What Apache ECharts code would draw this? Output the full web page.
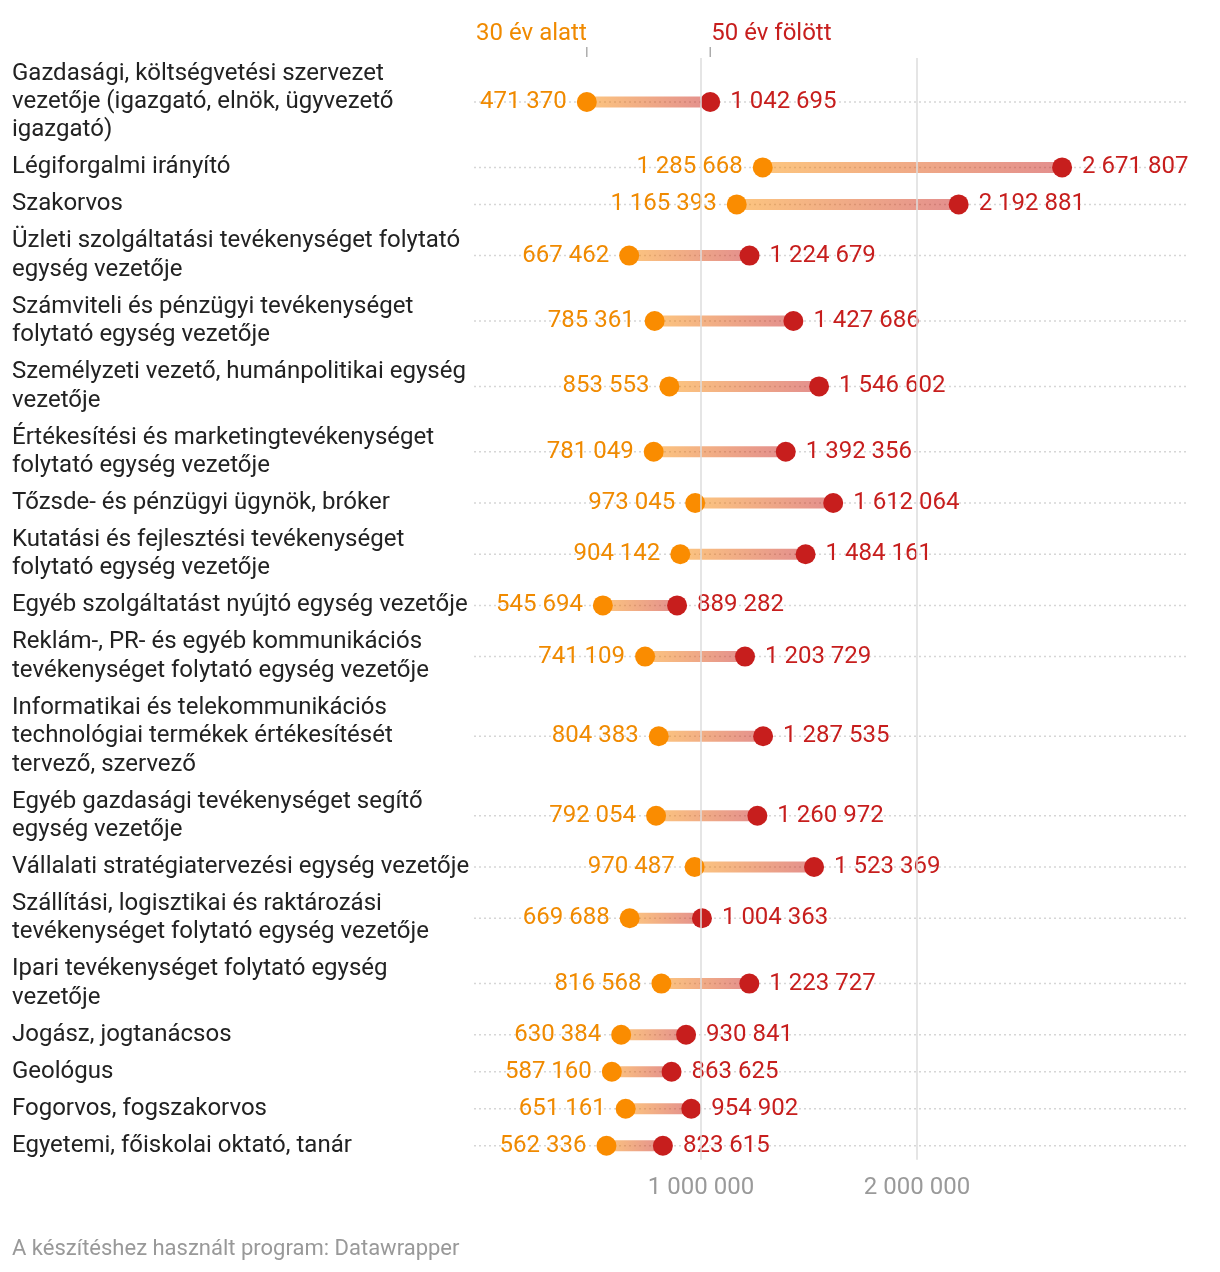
<!DOCTYPE html>
<html>
<head>
<meta charset="utf-8">
<script src="https://cdn.jsdelivr.net/npm/echarts@6/dist/echarts.min.js"></script>
<style>html,body{margin:0;padding:0;background:#fff}#c{width:1220px;height:1272px}</style>
</head>
<body>
<div id="c"></div>
<script>
const categories = [
  "Gazdasági, költségvetési szervezet\nvezetője (igazgató, elnök, ügyvezető\nigazgató)",
  "Légiforgalmi irányító",
  "Szakorvos",
  "Üzleti szolgáltatási tevékenységet folytató\negység vezetője",
  "Számviteli és pénzügyi tevékenységet\nfolytató egység vezetője",
  "Személyzeti vezető, humánpolitikai egység\nvezetője",
  "Értékesítési és marketingtevékenységet\nfolytató egység vezetője",
  "Tőzsde- és pénzügyi ügynök, bróker",
  "Kutatási és fejlesztési tevékenységet\nfolytató egység vezetője",
  "Egyéb szolgáltatást nyújtó egység vezetője",
  "Reklám-, PR- és egyéb kommunikációs\ntevékenységet folytató egység vezetője",
  "Informatikai és telekommunikációs\ntechnológiai termékek értékesítését\ntervező, szervező",
  "Egyéb gazdasági tevékenységet segítő\negység vezetője",
  "Vállalati stratégiatervezési egység vezetője",
  "Szállítási, logisztikai és raktározási\ntevékenységet folytató egység vezetője",
  "Ipari tevékenységet folytató egység\nvezetője",
  "Jogász, jogtanácsos",
  "Geológus",
  "Fogorvos, fogszakorvos",
  "Egyetemi, főiskolai oktató, tanár"
];
const under30 = [471370, 1285668, 1165393, 667462, 785361, 853553, 781049, 973045, 904142, 545694, 741109, 804383, 792054, 970487, 669688, 816568, 630384, 587160, 651161, 562336];
const over50 = [1042695, 2671807, 2192881, 1224679, 1427686, 1546602, 1392356, 1612064, 1484161, 889282, 1203729, 1287535, 1260972, 1523369, 1004363, 1223727, 930841, 863625, 954902, 823615];
const seriesNames = ["30 év alatt", "50 év fölött"];
const xTicks = [1000000, 2000000];
const footer = "A készítéshez használt program: Datawrapper";

// layout (row heights derived from the number of label lines)
const ROW_BASE = 37, LINE_H = 28.4, XMAX = 3250000;
const PAD_TOP = 44, PAD_BOTTOM = 14;
const FONT = "Roboto, 'Noto Sans', sans-serif";
const FS = 24;
const ORANGE = '#fa8c00', RED = '#c71e1d', ORANGE_T = '#f08a00';
const lines = categories.map(s => s.split('\n').length);
const heights = lines.map(n => ROW_BASE + LINE_H * (n - 1));
const centers = [];
let acc = 0;
heights.forEach(h => { centers.push(acc + h / 2); acc += h; });
const yMin = centers[0] - PAD_TOP;
const yMax = centers[centers.length - 1] + PAD_BOTTOM;
const GRID_TOP = 58;
const fmt = v => String(Math.round(v)).replace(/\B(?=(\d{3})+(?!\d))/g, ' ');

const rows = categories.map((c, i) => [i, under30[i], over50[i], centers[i]]);

const chart = echarts.init(document.getElementById('c'), null, {renderer: 'canvas'});
chart.setOption({
  animation: false,
  backgroundColor: '#fff',
  textStyle: {fontFamily: FONT},
  title: {
    text: footer, left: 7, top: 1233,
    textStyle: {fontSize: 22, fontWeight: 'normal', color: '#999', fontFamily: FONT}
  },
  grid: {left: 485, right: 33, top: GRID_TOP, bottom: 1272 - GRID_TOP - (yMax - yMin)},
  xAxis: {
    type: 'value', min: 0, max: XMAX, interval: 1000000,
    axisLine: {show: false}, axisTick: {show: false}, splitLine: {show: false},
    axisLabel: {
      margin: 16, color: '#9a9a9a', fontSize: FS, fontFamily: FONT,
      formatter: v => xTicks.indexOf(v) >= 0 ? fmt(v) : ''
    }
  },
  yAxis: {type: 'value', min: yMin, max: yMax, inverse: true, show: false},
  series: [
    {
      type: 'scatter', z: 0, silent: true, symbolSize: 0, data: [[0, centers[0]]],
      markLine: {
        silent: true, symbol: 'none', label: {show: false},
        lineStyle: {color: '#dcdcdc', width: 1.5, type: 'solid'},
        data: xTicks.map(v => ({xAxis: v}))
      }
    },
    {
      type: 'custom', z: 1, silent: true,
      data: rows,
      renderItem: (params, api) => {
        const i = api.value(0), y = api.value(3);
        const p0 = api.coord([0, y]);
        const pE = api.coord([XMAX, y]);
        const pA = api.coord([api.value(1), y]);
        const pB = api.coord([api.value(2), y]);
        const children = [
          {type: 'line', shape: {x1: p0[0] - 11, y1: p0[1], x2: pE[0] + 1, y2: pE[1]},
           style: {stroke: '#d6d6d6', lineWidth: 1.5, lineDash: [2, 3]}},
          {type: 'rect', shape: {x: pA[0], y: pA[1] - 5.5, width: pB[0] - pA[0], height: 11},
           style: {fill: new echarts.graphic.LinearGradient(0, 0, 1, 0, [
             {offset: 0, color: 'rgba(250,140,0,0.5)'},
             {offset: 1, color: 'rgba(199,30,29,0.5)'}
           ])}},
          {type: 'text', x: 12, y: p0[1],
           style: {text: categories[i], fill: '#222', fontSize: FS, fontFamily: FONT,
                   lineHeight: LINE_H, verticalAlign: 'middle', align: 'left'}}
        ];
        if (i === 0) {
          children.push(
            {type: 'line', shape: {x1: pA[0], y1: 47, x2: pA[0], y2: 57}, style: {stroke: '#999', lineWidth: 1.2}},
            {type: 'line', shape: {x1: pB[0], y1: 47, x2: pB[0], y2: 57}, style: {stroke: '#999', lineWidth: 1.2}},
            {type: 'text', x: pA[0], y: 34, style: {text: seriesNames[0], fill: ORANGE_T, fontSize: FS, fontFamily: FONT, align: 'right', verticalAlign: 'middle'}},
            {type: 'text', x: pB[0] + 1, y: 34, style: {text: seriesNames[1], fill: RED, fontSize: FS, fontFamily: FONT, align: 'left', verticalAlign: 'middle'}}
          );
        }
        return {type: 'group', children};
      }
    },
    {
      name: seriesNames[0], type: 'scatter', z: 3, symbolSize: 20,
      itemStyle: {color: ORANGE, opacity: 1},
      data: rows.map(r => [r[1], r[3]]),
      label: {show: true, position: 'left', distance: 10, color: ORANGE_T, fontSize: FS, fontFamily: FONT,
              formatter: p => fmt(p.value[0])}
    },
    {
      name: seriesNames[1], type: 'scatter', z: 3, symbolSize: 20,
      itemStyle: {color: RED, opacity: 1},
      data: rows.map(r => [r[2], r[3]]),
      label: {show: true, position: 'right', distance: 10, color: RED, fontSize: FS, fontFamily: FONT,
              formatter: p => fmt(p.value[0])}
    }
  ]
});
</script>
</body>
</html>
